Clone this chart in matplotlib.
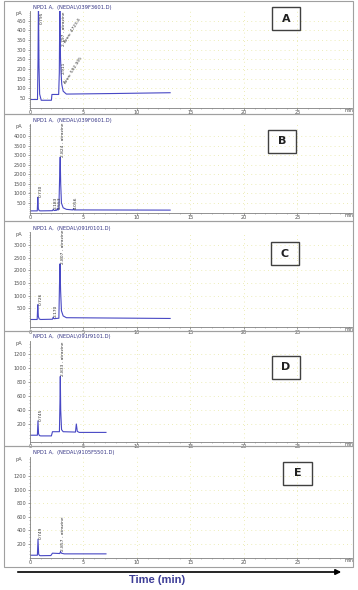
import numpy as np
import matplotlib.pyplot as plt
from matplotlib.patches import Rectangle, FancyArrowPatch

# chromatogram traces (time in min, signal in pA)
A_t = [0.0, 0.70, 0.75, 0.79, 0.84, 0.90, 1.05, 2.00, 2.05, 2.68, 2.74, 2.79, 2.85, 2.91, 2.97, 3.10, 3.40, 8.00, 13.10]
A_y = [42, 42, 250, 560, 220, 70, 38, 38, 68, 68, 180, 560, 260, 175, 120, 85, 70, 73, 77]

B_t = [0.0, 0.68, 0.73, 0.78, 0.86, 1.00, 2.10, 2.18, 2.26, 2.48, 2.553, 2.62, 2.70, 2.78, 2.824, 2.87, 2.94, 3.10, 3.40, 4.00, 4.056, 4.12, 13.10]
B_y = [90, 90, 800, 200, 100, 90, 100, 170, 110, 120, 210, 130, 220, 2100, 2900, 1500, 500, 250, 170, 140, 190, 140, 130]

C_t = [0.0, 0.67, 0.726, 0.78, 0.86, 1.00, 2.10, 2.17, 2.24, 2.70, 2.76, 2.807, 2.86, 2.94, 3.10, 3.40, 13.10]
C_y = [60, 60, 640, 180, 80, 60, 70, 150, 90, 110, 1500, 2250, 1200, 400, 200, 130, 100]

D_t = [0.0, 0.69, 0.745, 0.80, 0.88, 1.00, 2.00, 2.10, 2.75, 2.80, 2.833, 2.87, 2.95, 3.10, 4.25, 4.33, 4.42, 4.60, 7.10]
D_y = [40, 40, 245, 60, 35, 30, 30, 90, 90, 500, 880, 400, 120, 90, 85, 200, 95, 80, 80]

E_t = [0.0, 0.69, 0.749, 0.81, 0.90, 1.00, 1.95, 2.10, 2.78, 2.857, 2.93, 3.20, 7.10]
E_y = [35, 35, 270, 50, 30, 28, 30, 65, 60, 90, 65, 55, 55]

# retention time labels
A_rt = [0.795, 2.797, 2.911]
A_lab = ['0.795', '2.797 - atrazine', '2.911']
B_rt = [0.730, 2.183, 2.553, 2.824, 4.056]
B_lab = ['0.730', '2.183', '2.553', '2.824 - atrazine', '4.056']
C_rt = [0.726, 2.170, 2.807]
C_lab = ['0.726', '2.170', '2.807 - atrazine']
D_rt = [0.745, 2.833]
D_lab = ['0.745', '2.833 - atrazine']
E_rt = [0.749, 2.857]
E_lab = ['0.749', '2.857 - atrazine']

headers = ['NPD1 A,  (NEDAL\\039F3601.D)', 'NPD1 A,  (NEDAL\\039F0601.D)',
           'NPD1 A,  (NEDAL\\091f0101.D)', 'NPD1 A,  (NEDAL\\091f9101.D)',
           'NPD1 A,  (NEDAL\\9105F5501.D)']
letters = ['A', 'B', 'C', 'D', 'E']
y_ticks = [np.arange(50, 451, 50), np.arange(500, 4001, 500), np.arange(500, 3001, 500),
           np.arange(200, 1201, 200), np.arange(200, 1201, 200)]
y_minor = [10, 100, 100, 50, 50]
x_ticks = [0, 5, 10, 15, 20, 25]

W, H = 358, 590
fig = plt.figure(figsize=(W / 100, H / 100), dpi=100)
narrow = ['Liberation Sans Narrow', 'DejaVu Sans']


def px_axes(left, top, right, bottom):
    return fig.add_axes([left / W, 1 - bottom / H, (right - left) / W, (bottom - top) / H])


def px_rect(left, top, right, bottom, **kw):
    r = Rectangle((left / W, 1 - bottom / H), (right - left) / W, (bottom - top) / H,
                  transform=fig.transFigure, fill=False, **kw)
    fig.patches.append(r)


# panel layout in pixels
axes_px = [(11, 107.6), (124, 212.6), (232, 327), (341, 442), (457, 557.6)]
ylims = [(0, 500), (0, 4630), (-236, 3504), (-57, 1386), (0, 1480)]
boxes = [(1, 114), (114, 221), (221, 331), (331, 446), (446, 567)]
letter_px = [(272, 7, 300, 30), (268, 130, 296, 153), (271, 242, 299, 265),
             (272, 356, 300, 379), (283, 462, 312, 485)]

traces = [(A_t, A_y), (B_t, B_y), (C_t, C_y), (D_t, D_y), (E_t, E_y)]
labels = [(A_rt, A_lab), (B_rt, B_lab), (C_rt, C_lab), (D_rt, D_lab), (E_rt, E_lab)]

for i in range(5):
    top, bot = axes_px[i]
    ax = px_axes(30, top, 352, bot)
    t, v = traces[i]
    ax.plot(t, v, color='#4848c4', lw=0.8)
    ax.set_xlim(0, 30.1)
    ax.set_ylim(*ylims[i])

    ax.set_yticks(y_ticks[i])
    ax.set_yticks(np.arange(0, ylims[i][1], y_minor[i]), minor=True)
    ax.set_xticks(x_ticks)
    ax.set_xticks(np.arange(0, 30, 1), minor=True)
    ax.tick_params(labelsize=3.6, labelcolor='#505050', color='#707070',
                   length=1.5, width=0.5, pad=1.2)
    ax.tick_params(axis='x', pad=0.3)
    ax.tick_params(which='minor', length=1, width=0.4, color='#909090')
    ax.grid(True, color='#e6e6a0', lw=0.6, ls=(0, (1, 4)))
    for s in ['top', 'right']:
        ax.spines[s].set_visible(False)
    for s in ['left', 'bottom']:
        ax.spines[s].set_color('#808080')
        ax.spines[s].set_linewidth(0.6)

    ax.text(29.4, ylims[i][0], 'min', fontsize=3.4, color='#505050', ha='left', va='top')
    ax.text(-0.025, 1.0, 'pA', transform=ax.transAxes, fontsize=3.6, color='#505050',
            ha='right', va='top')
    ax.text(0.01, 1.015, headers[i], transform=ax.transAxes, fontsize=3.7, color='#353585',
            ha='left', va='bottom')

    # retention time labels
    rts, txts = labels[i]
    for rt, txt in zip(rts, txts):
        apex = np.interp(rt, t, v)
        if apex > ylims[i][1]:
            ax.text(rt + 0.15, ylims[i][1], txt, rotation=90, fontsize=3.2, color='#303030',
                    family=narrow, ha='left', va='top')
        else:
            ax.text(rt + 0.05, apex, txt, rotation=90, fontsize=3.2, color='#303030',
                    family=narrow, ha='left', va='bottom')

    if i == 0:
        ax.text(3.1, 330, 'Area: 4723.4', rotation=58, fontsize=3.2, color='#303030',
                family=narrow, ha='left', va='bottom')
        ax.text(3.1, 120, 'Area: 592.305', rotation=58, fontsize=3.2, color='#303030',
                family=narrow, ha='left', va='bottom')

    # panel frame and letter box
    px_rect(4, boxes[i][0], 353, boxes[i][1], ec='#a0a0a0', lw=0.8)
    l, tp, r, b = letter_px[i]
    px_rect(l, tp, r, b, ec='#404040', lw=1.0)
    fig.text((l + r) / 2 / W, 1 - (tp + b) / 2 / H, letters[i], fontsize=8,
             fontweight='bold', ha='center', va='center', color='#202020')

# time arrow at the bottom
fig.patches.append(FancyArrowPatch(
    (15 / W, 1 - 572 / H), (344 / W, 1 - 572 / H), transform=fig.transFigure,
    arrowstyle='-|>', mutation_scale=8, color='black', lw=1.2))
fig.text(157 / W, 1 - 580 / H, 'Time (min)', fontsize=8, fontweight='bold',
         family=['Liberation Sans', 'DejaVu Sans'], color='#3c3c96',
         ha='center', va='center')

fig.savefig('out.png', dpi=100)
